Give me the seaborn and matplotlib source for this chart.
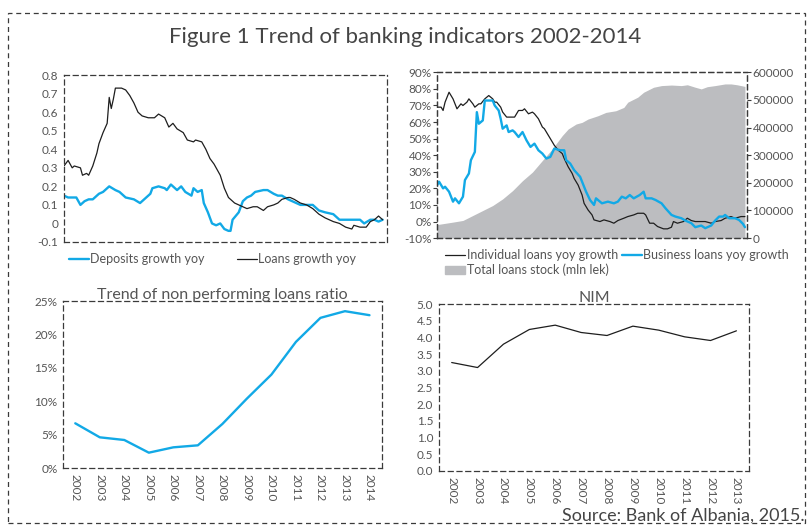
import pandas as pd
import seaborn as sns
import matplotlib.pyplot as plt
from matplotlib.patches import Rectangle, Patch
from matplotlib.lines import Line2D
from matplotlib.ticker import FuncFormatter, FixedLocator

sns.set_theme(style="white")
plt.rcParams["font.family"] = ["Lato", "DejaVu Sans"]

BLUE = "#12A9E6"
DARK = "#1e1e1e"
GREY_AREA = "#BCBDC0"
TXT = "#555555"
SPINE = "#3a3a3a"

# --- top left: deposits / loans growth yoy (monthly index) ---
loans_m = [0, 2, 4, 5, 8, 9, 11, 12, 14, 16, 17, 19, 21, 22, 23, 24, 25, 28, 30, 32, 34, 36, 38, 41, 44, 46,
           49, 51, 53, 55, 58, 60, 63, 64, 67, 69, 71, 73, 76, 78, 80, 83, 85, 89, 92, 94, 97, 99, 102, 104,
           106, 109, 110, 112, 115, 118, 121, 124, 127, 131, 134, 137, 140, 141, 144, 147, 149, 151, 153, 155]
loans_g = [0.31, 0.34, 0.30, 0.31, 0.30, 0.26, 0.27, 0.26, 0.31, 0.38, 0.43, 0.49, 0.54, 0.68, 0.62, 0.67,
           0.73, 0.73, 0.72, 0.69, 0.65, 0.60, 0.58, 0.57, 0.57, 0.59, 0.57, 0.52, 0.54, 0.51, 0.49, 0.45,
           0.44, 0.45, 0.44, 0.40, 0.35, 0.32, 0.26, 0.19, 0.14, 0.11, 0.10, 0.08, 0.09, 0.09, 0.07, 0.09,
           0.10, 0.11, 0.13, 0.14, 0.14, 0.13, 0.11, 0.10, 0.08, 0.05, 0.03, 0.01, 0.00, -0.02, -0.03, -0.01,
           -0.02, -0.02, 0.01, 0.02, 0.04, 0.02]
dep_m = [0, 2, 4, 6, 8, 10, 12, 14, 17, 19, 22, 25, 27, 30, 34, 37, 39, 42, 43, 46, 49, 50, 52, 55, 57, 59,
         62, 63, 65, 67, 68, 70, 72, 74, 76, 78, 80, 81, 82, 85, 87, 89, 91, 93, 97, 99, 102, 104, 106, 109,
         111, 115, 118, 121, 124, 127, 131, 134, 137, 140, 144, 146, 149, 151, 153, 155]
dep_g = [0.15, 0.14, 0.14, 0.14, 0.10, 0.12, 0.13, 0.13, 0.16, 0.17, 0.20, 0.18, 0.17, 0.14, 0.13, 0.11,
         0.13, 0.16, 0.19, 0.20, 0.19, 0.18, 0.21, 0.18, 0.20, 0.17, 0.15, 0.19, 0.17, 0.18, 0.11, 0.06,
         0.00, -0.01, 0.00, -0.03, -0.04, -0.04, 0.02, 0.06, 0.12, 0.14, 0.15, 0.17, 0.18, 0.18, 0.16, 0.15,
         0.15, 0.13, 0.12, 0.10, 0.10, 0.10, 0.07, 0.06, 0.05, 0.02, 0.02, 0.02, 0.02, 0.00, 0.02, 0.02,
         0.01, 0.02]

# --- top right: individual / business loans growth (%) and total stock ---
ind_m = [0, 2, 3, 4, 6, 8, 10, 12, 13, 15, 16, 18, 19, 21, 22, 24, 26, 28, 29, 30, 32, 33, 35, 37, 39, 41,
         43, 44, 46, 48, 49, 51, 53, 54, 56, 58, 59, 61, 63, 64, 66, 68, 69, 71, 73, 74, 76, 78, 79, 82, 84,
         87, 89, 91, 94, 96, 99, 101, 104, 105, 107, 109, 111, 114, 116, 118, 119, 121, 124, 126, 128, 130,
         133, 135, 138, 140, 143, 145, 148, 150, 153, 155]
ind_g = [69, 69, 67, 72, 78, 74, 68, 71, 70, 72, 74, 71, 69, 71, 71, 74, 76, 74, 72, 72, 69, 66, 63, 63, 63,
         67, 67, 68, 65, 66, 65, 62, 57, 56, 52, 48, 46, 43, 41, 38, 33, 29, 26, 22, 16, 11, 7, 4, 1, 0, 1, 0,
         -1, 0.6, 2, 3, 4, 5, 5, 4, -1, -1, -3, -4.4, -4.4, -3.4, 0, -1, 0, 2, 0.6, 0, 0, 0, -1, 0, 0.6, 2, 3,
         2, 3, 3]
bus_m = [0, 1, 3, 4, 6, 8, 9, 11, 13, 14, 16, 17, 19, 20, 21, 23, 24, 26, 28, 29, 31, 32, 33, 35, 36, 38,
         39, 41, 43, 45, 47, 49, 51, 53, 55, 57, 59, 62, 64, 65, 67, 69, 72, 74, 75, 77, 79, 80, 83, 86, 89,
         91, 93, 95, 97, 99, 102, 104, 105, 108, 110, 113, 115, 118, 120, 123, 125, 128, 130, 133, 135, 138,
         140, 142, 144, 145, 147, 150, 152, 154, 155]
bus_g = [22, 24, 20, 21, 18, 12, 14, 11, 15, 25, 29, 37, 42, 66, 59, 61, 73, 73, 73, 70, 67, 62, 56, 58, 54,
         55, 54, 51, 54, 49, 45, 47, 43, 41, 38, 39, 44, 43, 43, 37, 35, 31, 27, 21, 18, 13, 10, 14, 11, 12,
         11, 12, 15, 14, 16, 14, 16, 18, 14, 14, 13, 11, 8, 4, 3, 2, 0.6, -1, -3.4, -2.4, -4, -2.4, 0.6, 3, 3,
         4, 2, 2, 1, -1.4, -3.4]
stock_m = [0, 8, 13, 18, 23, 28, 33, 38, 43, 48, 53, 58, 63, 66, 70, 73, 76, 81, 85, 90, 94, 96, 101, 104,
           109, 113, 118, 123, 126, 130, 133, 136, 140, 145, 148, 151, 155]
stock_v = [49000, 58000, 64000, 82000, 100000, 118000, 142000, 172000, 208000, 239000, 281000, 323000,
           371000, 395000, 413000, 419000, 431000, 443000, 455000, 461000, 473000, 492000, 510000, 528000,
           546000, 552000, 554000, 552000, 555000, 546000, 540000, 548000, 552000, 558000, 558000, 555000,
           549000]

# --- bottom panels ---
npl_years = list(range(2002, 2015))
npl_ratio = [6.7, 4.6, 4.2, 2.3, 3.1, 3.4, 6.6, 10.4, 14.0, 18.9, 22.5, 23.5, 22.9]
nim_years = list(range(2002, 2014))
nim_vals = [3.25, 3.1, 3.8, 4.24, 4.37, 4.15, 4.06, 4.34, 4.22, 4.02, 3.91, 4.2]

fig = plt.figure(figsize=(8.11, 5.28), dpi=100)


def style_axes(ax):
    for s in ax.spines.values():
        s.set_visible(True)
        s.set_linestyle((0, (4, 3)))
        s.set_color(SPINE)
        s.set_linewidth(0.9)
    ax.tick_params(axis="both", colors=SPINE, labelcolor=TXT, labelsize=8.5,
                   direction="out", length=3, width=0.8, pad=1)
    ax.set_xlabel("")
    ax.set_ylabel("")
    ax.grid(False)


# top left
ax1 = fig.add_axes([0.0789, 0.5417, 0.398, 0.316])
sns.lineplot(x=dep_m, y=dep_g, ax=ax1, color=BLUE, lw=1.7, sort=False, estimator=None)
sns.lineplot(x=loans_m, y=loans_g, ax=ax1, color=DARK, lw=0.9, sort=False, estimator=None)
ax1.set_xlim(0, 157)
ax1.set_ylim(-0.1, 0.8)
ax1.set_yticks([-0.1, 0, 0.1, 0.2, 0.3, 0.4, 0.5, 0.6, 0.7, 0.8])
ax1.yaxis.set_major_formatter(FuncFormatter(lambda v, p: f"{v:g}" if abs(v) > 1e-9 else "0"))
ax1.set_xticks([])
style_axes(ax1)
ax1.legend(handles=[Line2D([], [], color=BLUE, lw=1.7), Line2D([], [], color=DARK, lw=0.9)],
           labels=["Deposits growth yoy", "Loans growth yoy"], ncol=2, frameon=False,
           loc="upper left", bbox_to_anchor=(-0.02, 0.0), fontsize=9, handlelength=1.6,
           handletextpad=0.1, columnspacing=2.6, labelcolor=TXT)

# top right
ax2 = fig.add_axes([0.539, 0.549, 0.382, 0.314])
ax2r = ax2.twinx()
ax2r.fill_between(stock_m, stock_v, 0, color=GREY_AREA, lw=0)
ax2r.set_ylim(0, 600000)
ax2r.set_yticks(range(0, 600001, 100000))
ax2.set_zorder(ax2r.get_zorder() + 1)
ax2.patch.set_visible(False)
sns.lineplot(x=ind_m, y=ind_g, ax=ax2, color=DARK, lw=0.9, sort=False, estimator=None)
sns.lineplot(x=bus_m, y=bus_g, ax=ax2, color=BLUE, lw=1.7, sort=False, estimator=None)
ax2.set_xlim(0, 156)
ax2.set_ylim(-10, 90)
ax2.set_yticks(range(-10, 91, 10))
ax2.yaxis.set_major_formatter(FuncFormatter(lambda v, p: f"{v:.0f}%"))
ax2.set_xticks([])
style_axes(ax2)
style_axes(ax2r)
ax2r.tick_params(axis="y", labelsize=8.5, pad=1)
ax2.legend(handles=[Line2D([], [], color=DARK, lw=0.9), Patch(color=GREY_AREA),
                    Line2D([], [], color=BLUE, lw=1.7)],
           labels=["Individual loans yoy growth", "Total loans stock (mln lek)",
                   "Business loans yoy growth"],
           ncol=2, frameon=False, loc="upper left", bbox_to_anchor=(-0.01, 0.0),
           fontsize=9, handlelength=1.6, handleheight=0.5, handletextpad=0.1,
           columnspacing=0.3, labelspacing=0.2, labelcolor=TXT)

# bottom left
ax3 = fig.add_axes([0.0777, 0.1136, 0.393, 0.316])
sns.lineplot(x=npl_years, y=npl_ratio, ax=ax3, color=BLUE, lw=1.7)
ax3.set_xlim(2001.5, 2014.5)
ax3.set_ylim(0, 25)
ax3.set_yticks(range(0, 26, 5))
ax3.yaxis.set_major_formatter(FuncFormatter(lambda v, p: f"{v:.0f}%"))
style_axes(ax3)
ax3.set_xticks(npl_years)
ax3.set_xticklabels([str(y) for y in npl_years], rotation=270)
ax3.tick_params(axis="x", length=0, pad=4)
ax3.xaxis.set_minor_locator(FixedLocator([y + 0.5 for y in npl_years]))
ax3.tick_params(axis="x", which="minor", length=3, color=SPINE, direction="out")
ax3.set_title("Trend of non performing loans ratio", fontsize=11.5, color=TXT, pad=1.5)

# bottom right
ax4 = fig.add_axes([0.541, 0.108, 0.383, 0.316])
sns.lineplot(x=nim_years, y=nim_vals, ax=ax4, color=DARK, lw=0.9)
ax4.set_xlim(2001.5, 2013.5)
ax4.set_ylim(0, 5)
ax4.set_yticks([i * 0.5 for i in range(11)])
ax4.yaxis.set_major_formatter(FuncFormatter(lambda v, p: f"{v:.1f}"))
style_axes(ax4)
ax4.set_xticks(nim_years)
ax4.set_xticklabels([str(y) for y in nim_years], rotation=270)
ax4.tick_params(axis="x", length=0, pad=4)
ax4.xaxis.set_minor_locator(FixedLocator([y + 0.5 for y in nim_years]))
ax4.tick_params(axis="x", which="minor", length=3, color=SPINE, direction="out")
ax4.set_title("NIM", fontsize=11.5, color=TXT, pad=1.5)

# frame and texts
fig.patches.append(Rectangle((0.010, 0.010), 0.982, 0.965, transform=fig.transFigure, fill=False,
                             ls=(0, (4, 3)), ec=SPINE, lw=0.9))
fig.text(0.5, 0.93, "Figure 1 Trend of banking indicators 2002-2014", ha="center", va="center",
         fontsize=16, color="#444444")
fig.text(0.992, 0.008, "Source: Bank of Albania, 2015.", ha="right", va="bottom",
         fontsize=13, color="#444444")

fig.savefig("out.png", dpi=100)
